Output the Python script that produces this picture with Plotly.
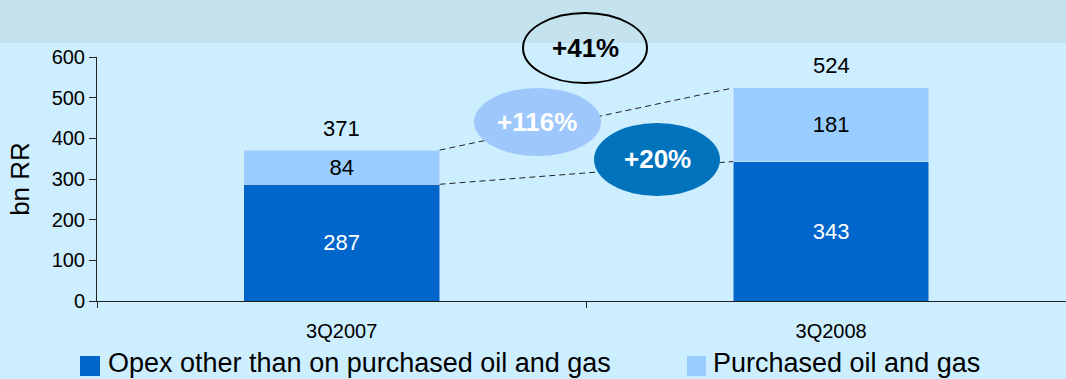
import plotly.graph_objects as go

# ---- data ----
categories = ["3Q2007", "3Q2008"]
opex_other = [287, 343]
purchased = [84, 181]
totals = [371, 524]
growth_labels = ["+41%", "+116%", "+20%"]
series_names = ["Opex other than on purchased oil and gas", "Purchased oil and gas"]

# ---- styles ----
DARK = "#0066CC"
LIGHT = "#99CCFF"
BG = "#CCEEFF"
BAND = "#C5E3EF"
FONT = "Liberation Sans, Arial, sans-serif"
W, H = 1066, 379
L, R, T, B = 97, 0, 57, 78
PW, PH = W - L - R, H - T - B
BAR_W = 0.4


def px(x):
    return (x - L) / PW


def py(y):
    return (H - B - y) / PH


fig = go.Figure()
fig.add_trace(go.Bar(
    x=categories, y=opex_other, name=series_names[0], marker_color=DARK,
    width=BAR_W, text=opex_other, textposition="inside", insidetextanchor="middle",
    constraintext="none", textfont=dict(color="white", size=22, family=FONT),
    showlegend=False,
))
fig.add_trace(go.Bar(
    x=categories, y=purchased, name=series_names[1], marker_color=LIGHT,
    width=BAR_W, text=purchased, textposition="inside", insidetextanchor="middle",
    constraintext="none", textfont=dict(color="black", size=22, family=FONT),
    showlegend=False,
))

shapes = []
# top band
shapes.append(dict(type="rect", xref="paper", yref="paper", x0=px(0), x1=px(W),
                   y0=py(43), y1=py(0), fillcolor=BAND, line_width=0, layer="below"))
# dashed connectors
dash_line = dict(color="#222", width=1, dash="6px,4px")
shapes.append(dict(type="line", xref="x", yref="y", x0=0 + BAR_W / 2, x1=1 - BAR_W / 2,
                   y0=totals[0], y1=totals[1], line=dash_line))
shapes.append(dict(type="line", xref="x", yref="y", x0=0 + BAR_W / 2, x1=1 - BAR_W / 2,
                   y0=opex_other[0], y1=opex_other[1], line=dash_line))
# ellipses
ell = [
    (523, 647, 13, 83, "rgba(0,0,0,0)", "black", 2),
    (474, 601, 88, 156, "#9EC7FB", "#9EC7FB", 0),
    (594, 720, 123, 196, "#0073BC", "#0073BC", 0),
]
for x0, x1, y0, y1, fill, lc, lw in ell:
    shapes.append(dict(type="circle", xref="paper", yref="paper", x0=px(x0), x1=px(x1),
                       y0=py(y1), y1=py(y0), fillcolor=fill,
                       line=dict(color=lc, width=lw)))
# legend squares
shapes.append(dict(type="rect", xref="paper", yref="paper", x0=px(80), x1=px(100),
                   y0=py(376), y1=py(356), fillcolor=DARK, line_width=0))
shapes.append(dict(type="rect", xref="paper", yref="paper", x0=px(687), x1=px(706),
                   y0=py(376), y1=py(356), fillcolor=LIGHT, line_width=0))

annotations = []
for c, t in zip(categories, totals):
    annotations.append(dict(x=c, y=t, xref="x", yref="y", text=str(t), showarrow=False,
                            yshift=22, yanchor="middle",
                            font=dict(size=22, color="black", family=FONT)))
centers = [(585, 48, "black"), (537, 122, "white"), (657, 159, "white")]
for (cx, cy, col), lab in zip(centers, growth_labels):
    annotations.append(dict(x=px(cx), y=py(cy), xref="paper", yref="paper", text="<b>%s</b>" % lab,
                            showarrow=False, xanchor="center", yanchor="middle",
                            font=dict(size=26, color=col, family=FONT)))
annotations.append(dict(x=px(106), y=py(363), xref="paper", yref="paper", text=series_names[0],
                        showarrow=False, xanchor="left", yanchor="middle",
                        font=dict(size=27, color="black", family=FONT)))
annotations.append(dict(x=px(711), y=py(363), xref="paper", yref="paper", text=series_names[1],
                        showarrow=False, xanchor="left", yanchor="middle",
                        font=dict(size=27, color="black", family=FONT)))

fig.update_layout(
    width=W, height=H, barmode="stack",
    margin=dict(l=L, r=R, t=T, b=B, pad=0),
    paper_bgcolor=BG, plot_bgcolor="rgba(0,0,0,0)",
    font=dict(family=FONT, color="black"),
    shapes=shapes, annotations=annotations,
    showlegend=False,
    xaxis=dict(type="category", range=[-0.5, 1.48], showline=True, linecolor="#222",
               linewidth=1, ticks="outside", tickson="boundaries", ticklen=6,
               tickcolor="#222", showgrid=False, tickfont=dict(size=20, family=FONT),
               ticklabelstandoff=12),
    yaxis=dict(range=[0, 600], dtick=100, showline=True, linecolor="#222", linewidth=1,
               ticks="outside", ticklen=7, tickcolor="#222", showgrid=False, zeroline=False,
               tickfont=dict(size=20, family=FONT),
               title=dict(text="bn RR", font=dict(size=26, family=FONT), standoff=14)),
)

fig.write_html("out.html")
